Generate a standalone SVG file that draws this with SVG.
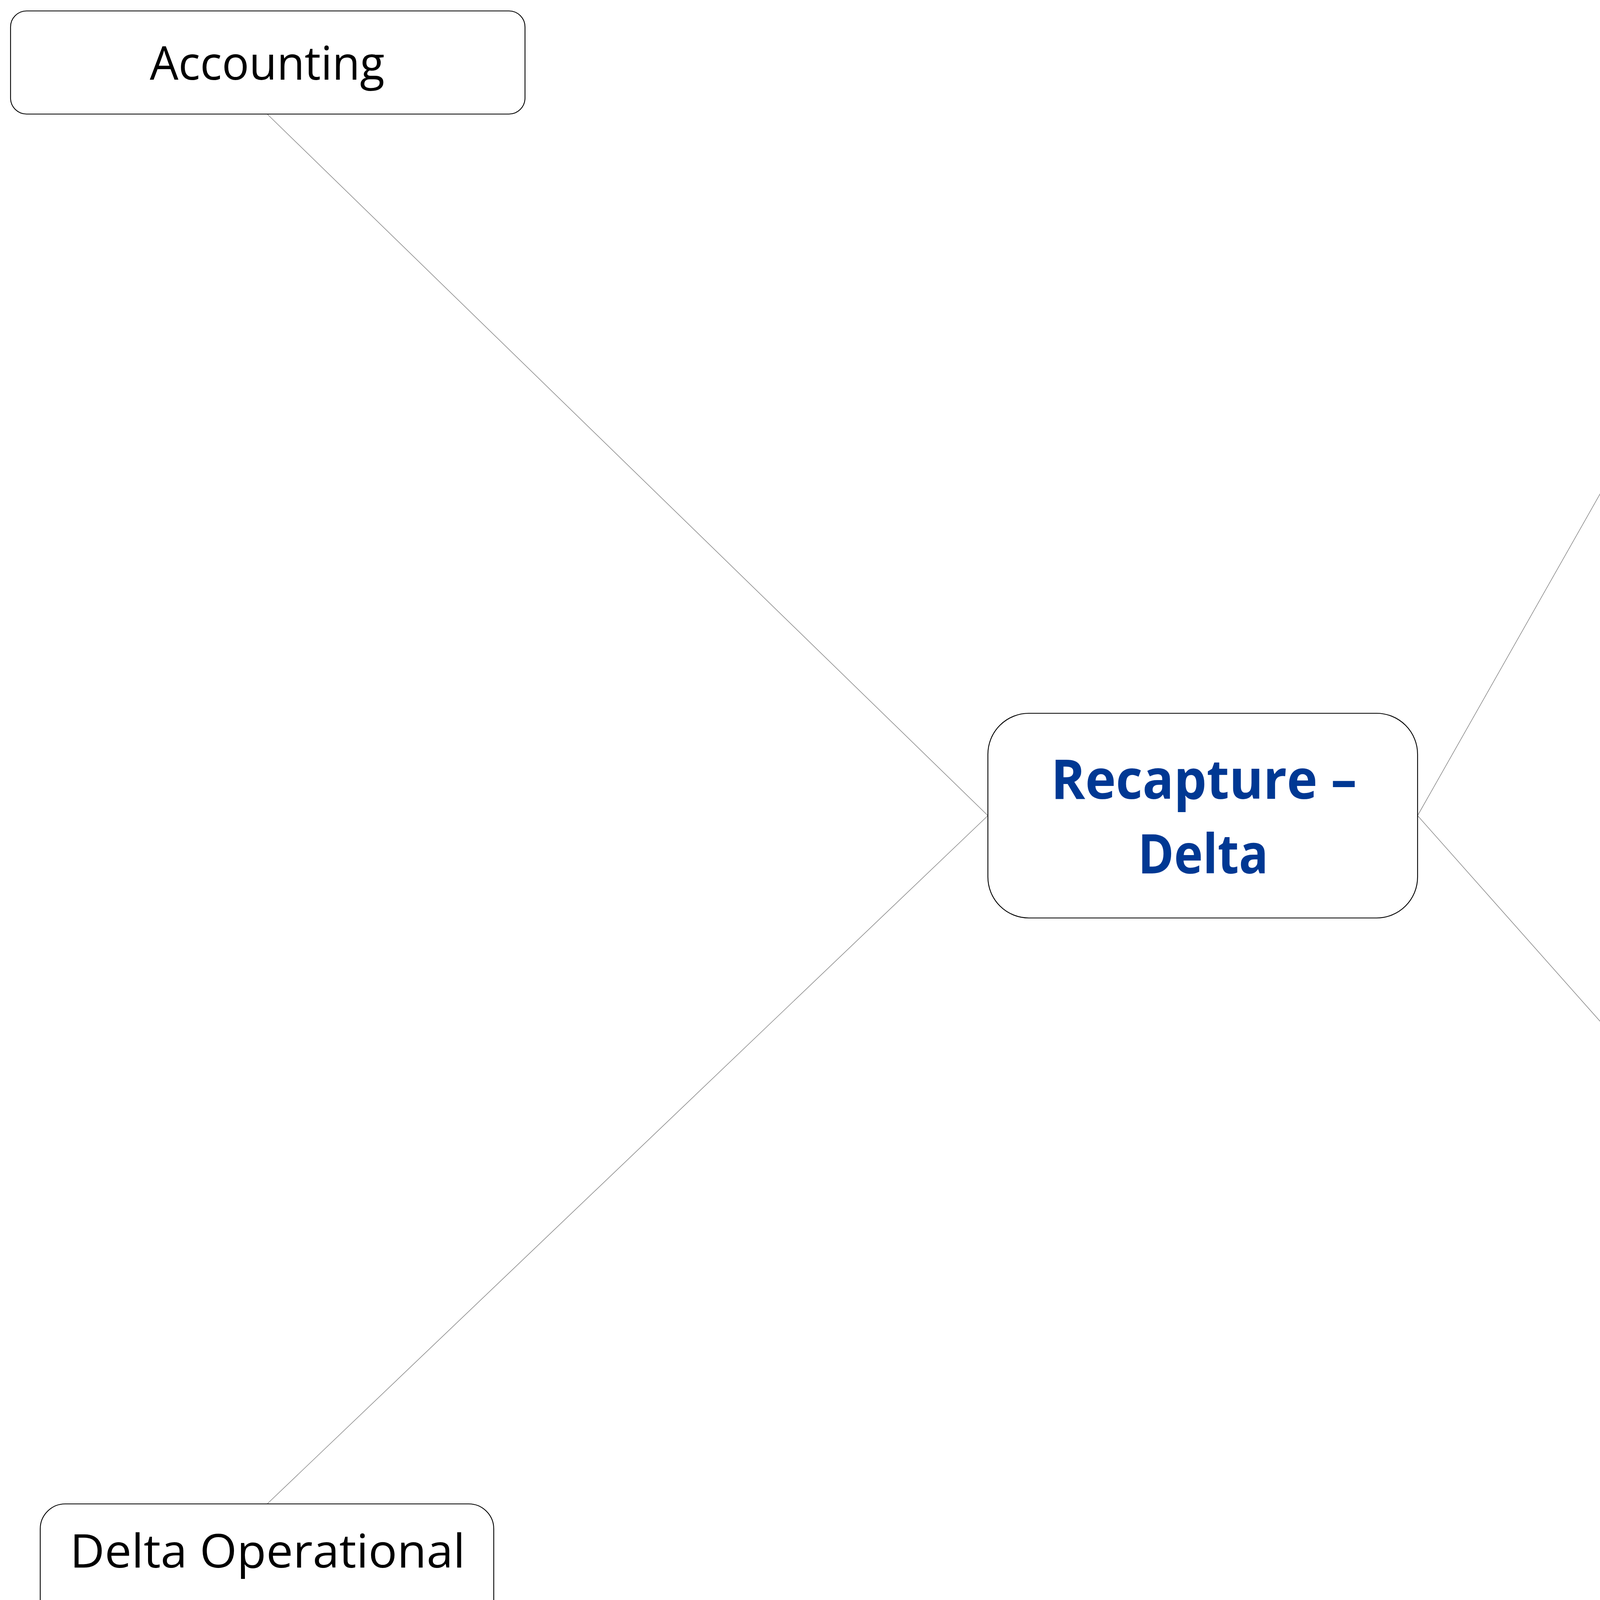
<svg xmlns="http://www.w3.org/2000/svg" width="6201" height="4247" viewBox="0 0 6201 4247">
<style>
.box{fill:#ffffff;stroke:#000000;stroke-width:2.2}
.lbl{font-family:"Open Sans","Noto Sans","Liberation Sans",sans-serif;font-size:119px;fill:#000000;text-anchor:middle}
.main{font-family:"Open Sans","Noto Sans","Liberation Sans",sans-serif;font-size:140px;font-weight:bold;fill:#003893;text-anchor:middle}
.conn{stroke:#8a8a8a;stroke-width:1.6;fill:none}
</style>
<rect width="6201" height="4247" fill="#ffffff"/>
<g id="connectors">
<line class="conn" x1="684" y1="292" x2="2529" y2="2088"/>
<line class="conn" x1="3629" y1="2088" x2="4663" y2="265"/>
<line class="conn" x1="2529" y1="2088" x2="684" y2="3850"/>
<line class="conn" x1="3629" y1="2088" x2="5070" y2="3712"/>
</g>
<g id="node-accounting">
<rect class="box" x="27" y="28" width="1317" height="264" rx="41" ry="41"/>
<text class="lbl" x="684" y="204" textLength="601" lengthAdjust="spacingAndGlyphs">Accounting</text>
</g>
<g id="node-flow-monitoring">
<rect class="box" x="4663" y="132" width="1491" height="263" rx="41" ry="41"/>
<text class="lbl" x="5409" y="309" textLength="880" lengthAdjust="spacingAndGlyphs">Flow Monitoring</text>
</g>
<g id="node-recapture-delta">
<rect class="box" x="2529" y="1826" width="1100" height="524" rx="105" ry="105"/>
<text class="main" x="3082" y="2045" textLength="783" lengthAdjust="spacingAndGlyphs">Recapture –</text>
<text class="main" x="3080" y="2236" textLength="334" lengthAdjust="spacingAndGlyphs">Delta</text>
</g>
<g id="node-delta-operational-constraints">
<rect class="box" x="103" y="3850" width="1161" height="404" rx="64" ry="64"/>
<text class="lbl" x="685" y="4013" textLength="1012" lengthAdjust="spacingAndGlyphs">Delta Operational</text>
<text class="lbl" x="685" y="4187" textLength="646" lengthAdjust="spacingAndGlyphs">Constraints</text>
</g>
<g id="node-coordinated-operations-agreement">
<rect class="box" x="4244" y="3712" width="1657" height="388" rx="62" ry="62"/>
<text class="lbl" x="5072" y="3870" textLength="1305" lengthAdjust="spacingAndGlyphs">Coordinated Operations</text>
<text class="lbl" x="5071" y="4031" textLength="605" lengthAdjust="spacingAndGlyphs">Agreement</text>
</g>
</svg>
